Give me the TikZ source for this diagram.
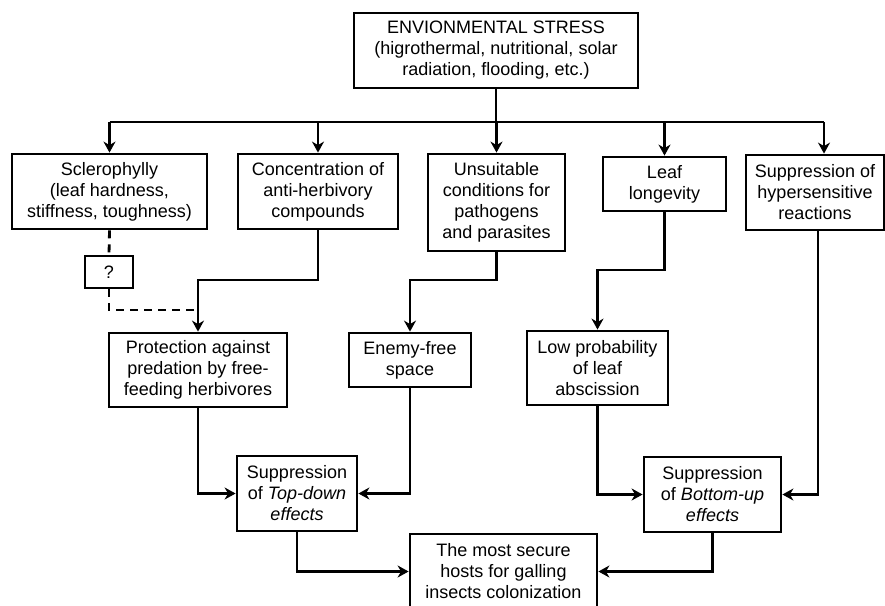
\documentclass[tikz,border=0pt]{standalone}
\usepackage{fontspec}
\setmainfont{Liberation Sans}
\usetikzlibrary{arrows.meta}
\begin{document}
\begin{tikzpicture}[x=1pt,y=-1pt,
  box/.style={draw,line width=2.8pt,align=center,inner sep=0pt,
    font=\fontsize{18}{21}\selectfont},
  line/.style={line width=2.8pt},
  arr/.style={line width=2.8pt,-{Stealth[length=11pt,width=12pt,inset=3.5pt]}},
  dsh/.style={line width=2.8pt,dash pattern=on 8pt off 6pt}]
\useasboundingbox (0,0) rectangle (885,605);
\node[box,minimum width=284pt,minimum height=75pt] (top) at (496,50.5)
  {ENVIONMENTAL STRESS\\(higrothermal, nutritional, solar\\radiation, flooding, etc.)};
\node[box,minimum width=195pt,minimum height=75pt] (scl) at (109.5,191.5)
  {Sclerophylly\\(leaf hardness,\\stiffness, toughness)};
\node[box,minimum width=160pt,minimum height=75pt] (conc) at (318,191.5)
  {Concentration of\\anti-herbivory\\compounds};
\node[box,minimum width=137pt,minimum height=97pt] (uns) at (496.5,202.5)
  {Unsuitable\\conditions for\\pathogens\\and parasites};
\node[box,minimum width=123pt,minimum height=54pt] (leaf) at (664.5,184)
  {Leaf\\longevity};
\node[box,minimum width=138pt,minimum height=75pt] (hyp) at (815,192.5)
  {Suppression of\\hypersensitive\\reactions};
\node[box,minimum width=48pt,minimum height=32pt] (q) at (109,272) {?};
\node[box,minimum width=178pt,minimum height=74pt] (prot) at (198,370)
  {Protection against\\predation by free-\\feeding herbivores};
\node[box,minimum width=122pt,minimum height=54pt] (enemy) at (410,360)
  {Enemy-free\\space};
\node[box,minimum width=141pt,minimum height=74pt] (low) at (597.5,368)
  {Low probability\\of leaf\\abscission};
\node[box,minimum width=120pt,minimum height=75pt] (td) at (297,493.5)
  {Suppression\\of \textit{Top-down}\\\textit{effects}};
\node[box,minimum width=137pt,minimum height=75pt] (bu) at (712.5,494.5)
  {Suppression\\of \textit{Bottom-up}\\\textit{effects}};
\node[box,minimum width=187pt,minimum height=75pt] (fin) at (503.5,571.5)
  {The most secure\\hosts for galling\\insects colonization};
\coordinate (bus) at (0,122);
\coordinate (ky) at (0,280);
\coordinate (ly) at (0,270);
\coordinate (jy) at (0,310);
\coordinate (hypin) at ([xshift=9pt]hyp.north);
\coordinate (hypout) at ([xshift=3pt]hyp.south);
\draw[line] (top.south) -- (top.south |- bus);
\draw[line] (scl.north |- bus) -- (hypin |- bus);
\draw[arr] (scl.north |- bus) -- (scl.north);
\draw[arr] (conc.north |- bus) -- (conc.north);
\draw[arr] (uns.north |- bus) -- (uns.north);
\draw[arr] (leaf.north |- bus) -- (leaf.north);
\draw[arr] (hypin |- bus) -- (hypin);
\draw[dsh] (scl.south) -- (q.north);
\draw[dsh] (q.south) |- (prot.north |- jy);
\draw[arr] (conc.south) -- (conc.south |- ky) -| (prot.north);
\draw[arr] (uns.south) -- (uns.south |- ky) -| (enemy.north);
\draw[arr] (leaf.south) -- (leaf.south |- ly) -| (low.north);
\draw[arr] (prot.south) |- (td.west);
\draw[arr] (enemy.south) |- (td.east);
\draw[arr] (low.south) |- (bu.west);
\draw[arr] (hypout) |- (bu.east);
\draw[arr] (td.south) |- (fin.west);
\draw[arr] (bu.south) |- (fin.east);
\end{tikzpicture}
\end{document}
